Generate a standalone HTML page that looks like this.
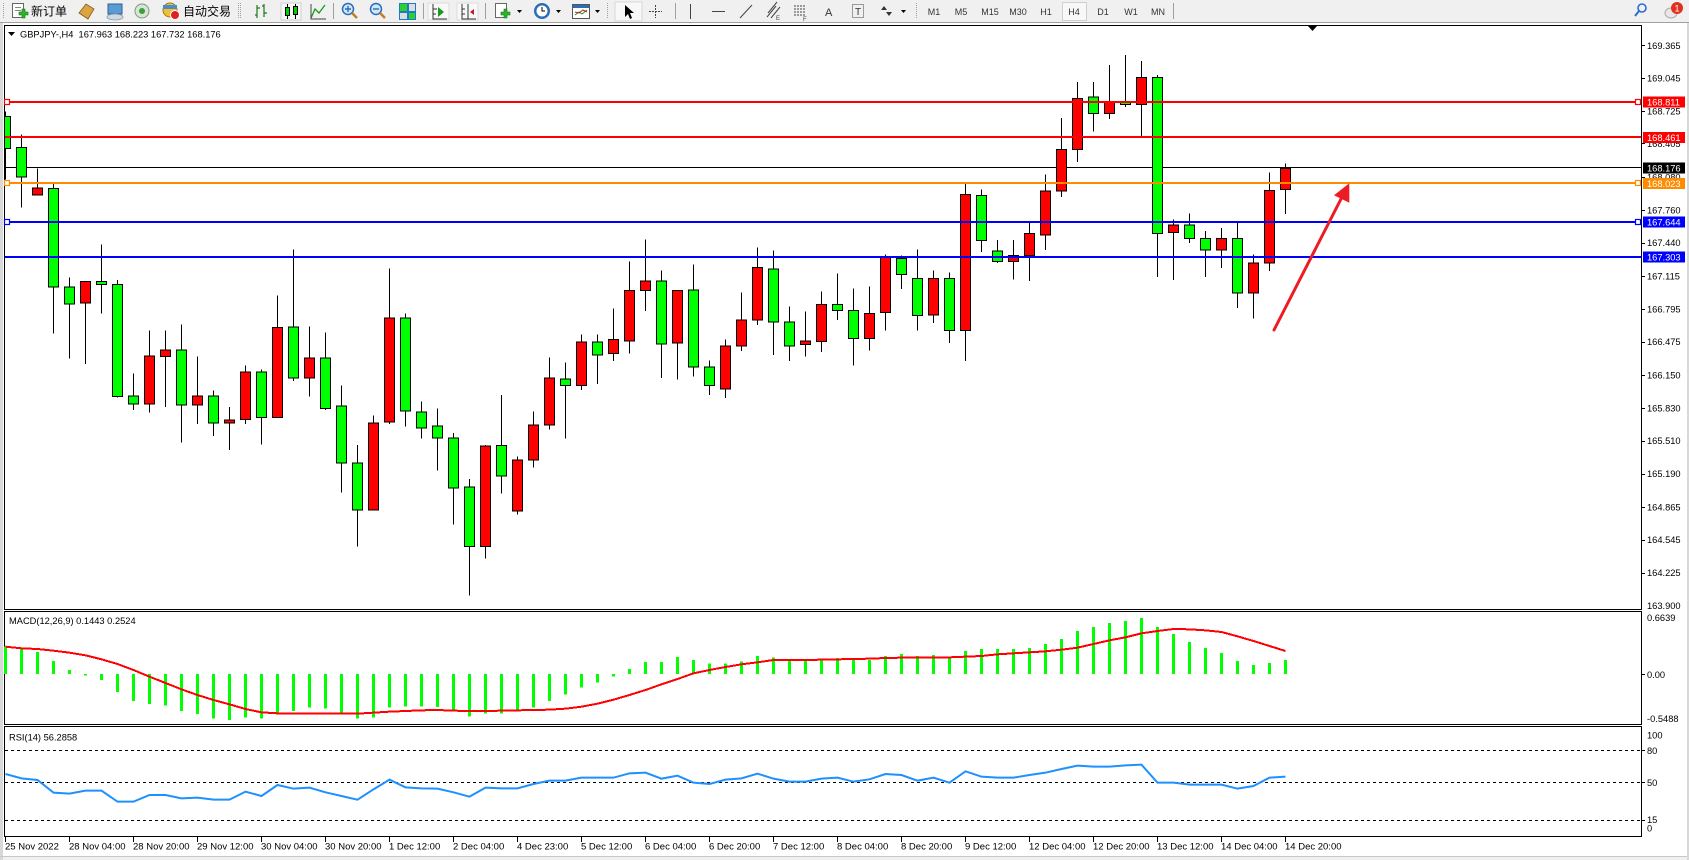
<!DOCTYPE html>
<html><head><meta charset="utf-8"><style>
html,body{margin:0;padding:0;background:#f0f0f0;}
svg{display:block;}
.c line,.c rect{vector-effect:non-scaling-stroke;stroke-width:1;}
.ln{vector-effect:non-scaling-stroke;}
text{font-family:"Liberation Sans","Noto Sans CJK SC",sans-serif;}
</style></head><body>
<svg width="1689" height="860" viewBox="0 0 1689 860" xmlns="http://www.w3.org/2000/svg">
<defs><clipPath id="mc"><rect x="5" y="26" width="1636" height="583"/></clipPath></defs>
<rect width="1689" height="860" fill="#f0f0f0"/>
<!-- toolbar -->
<line x1="0" y1="22.5" x2="1689" y2="22.5" stroke="#a0a0a0"/>
<g fill="none" stroke="#a0a0a0">
<line x1="3.5" y1="3" x2="3.5" y2="19" stroke-dasharray="1 1"/>
<line x1="238.5" y1="3" x2="238.5" y2="19" stroke-dasharray="1 1"/>
<line x1="240.5" y1="3" x2="240.5" y2="19" stroke-dasharray="1 1"/>
<line x1="333.5" y1="3" x2="333.5" y2="19"/>
<line x1="423.5" y1="3" x2="423.5" y2="19"/>
<line x1="485.5" y1="3" x2="485.5" y2="19"/>
<line x1="607.5" y1="3" x2="607.5" y2="19" stroke-dasharray="1 1"/>
<line x1="675.5" y1="3" x2="675.5" y2="19"/>
<line x1="916.5" y1="3" x2="916.5" y2="19" stroke-dasharray="1 1"/>
<line x1="1173.5" y1="3" x2="1173.5" y2="19"/>
</g>
<!-- new order -->
<rect x="12.5" y="3.5" width="11" height="14" fill="#fff" stroke="#666"/>
<line x1="15" y1="7.5" x2="21" y2="7.5" stroke="#888"/><line x1="15" y1="10.5" x2="21" y2="10.5" stroke="#888"/>
<path d="M19 12h3v-3h3v3h3v3h-3v3h-3v-3h-3z" fill="#2bb52b" stroke="#137013" stroke-width="0.6"/>
<text x="31" y="15.5" font-size="12" fill="#000">新订单</text>
<path d="M79 13l7-9 8 5-6 10z" fill="#d9a441" stroke="#8a5a10" stroke-width="0.8"/>
<rect x="108" y="4" width="14" height="10" fill="#5b9bd5" stroke="#2d5f91"/>
<ellipse cx="115" cy="17" rx="8" ry="3" fill="#d0d8e0" stroke="#8899aa" stroke-width="0.8"/>
<circle cx="142" cy="11" r="7" fill="#d8e4d8" stroke="#7a9a7a"/><circle cx="142" cy="11" r="3" fill="#3aa03a"/>
<circle cx="170" cy="10" r="7" fill="#f2c12e" stroke="#a07a10"/><rect x="163" y="5" width="14" height="4" fill="#4a8ad0"/>
<circle cx="175" cy="15" r="4.5" fill="#e02020" stroke="#fff" stroke-width="1"/>
<text x="183" y="15.5" font-size="12" fill="#000">自动交易</text>
<g stroke="#1a7a1a" stroke-width="1.2" fill="none">
<path d="M257 5v13M257 15h-2M257 8h3M264 4v13M264 6h-2M264 13h3"/>
</g>
<rect x="281" y="3" width="20" height="17" fill="#f8f8f8" stroke="#d0d0d0"/>
<g stroke="#000" stroke-width="1"><line x1="287.5" y1="4" x2="287.5" y2="19"/><line x1="295.5" y1="4" x2="295.5" y2="19"/></g>
<rect x="285.5" y="7.5" width="4" height="8" fill="#00d000" stroke="#000"/><rect x="293.5" y="6.5" width="4" height="8" fill="#00d000" stroke="#000"/>
<path d="M311 18l4-9 4 4 6-8" fill="none" stroke="#1a9a1a" stroke-width="1.3"/><path d="M311 4v15h15" fill="none" stroke="#444"/>
<circle cx="348" cy="9" r="5.5" fill="#cfe6fb" stroke="#2a6db5" stroke-width="1.5"/><path d="M345 9h6M348 6v6" stroke="#2a6db5" stroke-width="1.4"/><path d="M352 13l5 5" stroke="#c08020" stroke-width="2.5"/>
<circle cx="376" cy="9" r="5.5" fill="#cfe6fb" stroke="#2a6db5" stroke-width="1.5"/><path d="M373 9h6" stroke="#2a6db5" stroke-width="1.4"/><path d="M380 13l5 5" stroke="#c08020" stroke-width="2.5"/>
<rect x="399" y="3" width="17" height="17" fill="#1a7ad0"/><rect x="400" y="4" width="7" height="7" fill="#2bd22b"/><rect x="409" y="4" width="6" height="7" fill="#ddd"/><rect x="400" y="13" width="7" height="6" fill="#ddd"/><rect x="409" y="13" width="6" height="6" fill="#2bd22b"/>
<rect x="428" y="3" width="21" height="17" fill="#f8f8f8" stroke="#ddd"/>
<path d="M433 4v15h14M433 9h4M433 14h3" fill="none" stroke="#333"/><path d="M438 7l6 5-6 5z" fill="#1a9a1a"/>
<rect x="457" y="3" width="21" height="17" fill="#f8f8f8" stroke="#ddd"/>
<path d="M462 4v15h14M468 4v15M462 9h3M462 14h3" fill="none" stroke="#333"/><path d="M474 9l-4 3 4 3z" fill="#c02020"/>
<rect x="495.5" y="3.5" width="11" height="14" fill="#fff" stroke="#666"/><path d="M501 12h3v-3h3v3h3v3h-3v3h-3v-3h-3z" fill="#2bb52b" stroke="#137013" stroke-width="0.6"/>
<path d="M517 10h5l-2.5 3z" fill="#000"/>
<circle cx="542" cy="11" r="8" fill="#2a6db5"/><circle cx="542" cy="11" r="5.5" fill="#fff"/><path d="M542 7v4h3" stroke="#000" fill="none"/>
<path d="M556 10h5l-2.5 3z" fill="#000"/>
<rect x="572.5" y="4.5" width="17" height="14" fill="#fff" stroke="#555"/><rect x="573" y="5" width="16" height="3" fill="#2a6db5"/><path d="M575 15l4-3 3 2 5-4" stroke="#1a9a1a" fill="none"/><path d="M575 12l4 1 4-3 4 2" stroke="#c02020" fill="none"/>
<path d="M595 10h5l-2.5 3z" fill="#000"/>
<rect x="615" y="2" width="27" height="19" fill="#f8f8f8" stroke="#d8d8d8"/>
<path d="M625 5v12l3-3 2 5 2-1-2-5h4z" fill="#000"/>
<path d="M655.5 5v13M649 11.5h13" stroke="#444" stroke-dasharray="2 1"/>
<line x1="690.5" y1="4" x2="690.5" y2="19" stroke="#444"/>
<line x1="712" y1="11.5" x2="725" y2="11.5" stroke="#444"/>
<line x1="740" y1="18" x2="752" y2="5" stroke="#444"/>
<path d="M767 17l9-11M771 18l9-11M768 13l9-11" stroke="#444" fill="none"/><text x="776" y="20" font-size="6" fill="#444">E</text>
<path d="M794 6h12M794 9h12M794 12h12M794 15h12" stroke="#444" stroke-dasharray="2 1"/><text x="803" y="21" font-size="6" fill="#444">F</text>
<text x="825" y="16" font-size="11" fill="#333">A</text>
<rect x="852.5" y="4.5" width="11" height="13" fill="none" stroke="#444" stroke-dasharray="1 1"/><text x="855" y="15" font-size="10" fill="#333">T</text>
<path d="M884 6l-3 4h6zM889 16l-3-4h6z" fill="#333"/><path d="M901 10h5l-2.5 3z" fill="#000"/>
<g font-size="9" fill="#333" text-anchor="middle">
<text x="934" y="15">M1</text><text x="961" y="15">M5</text><text x="990" y="15">M15</text><text x="1018" y="15">M30</text><text x="1046" y="15">H1</text>
<rect x="1062.5" y="2.5" width="24" height="18" fill="#f8f8f8" stroke="#d0d0d0"/>
<text x="1074" y="15">H4</text><text x="1103" y="15">D1</text><text x="1131" y="15">W1</text><text x="1158" y="15">MN</text>
</g>
<circle cx="1642" cy="8" r="4" fill="none" stroke="#2a6dd0" stroke-width="1.6"/><line x1="1639" y1="11" x2="1635" y2="16" stroke="#2a6dd0" stroke-width="2"/>
<ellipse cx="1671" cy="13" rx="6" ry="5" fill="#e8e8e8" stroke="#aaa"/>
<circle cx="1677" cy="8" r="6" fill="#e03020"/><text x="1677" y="11.5" font-size="9" fill="#fff" text-anchor="middle">1</text>

<!-- chart window -->
<rect x="3" y="23" width="1684" height="833" fill="#fff"/>
<rect x="0" y="23" width="3" height="837" fill="#d8d8d8"/>
<line x1="0" y1="856.5" x2="1689" y2="856.5" stroke="#c8c8c8"/>
<rect x="1687" y="23" width="2" height="837" fill="#d8d8d8"/>

<!-- panels -->
<g fill="none" stroke="#000" shape-rendering="crispEdges">
<rect x="4.5" y="25.5" width="1637" height="584"/>
<rect x="4.5" y="611.5" width="1637" height="113"/>
<rect x="4.5" y="726.5" width="1637" height="110"/>
</g>

<!-- bid line (behind candles) -->
<line x1="5" y1="167.5" x2="1641" y2="167.5" stroke="#000" shape-rendering="crispEdges"/>

<!-- candles -->
<g clip-path="url(#mc)">
<g class="c" transform="translate(0,25) scale(1,0.37693)" stroke="#000" shape-rendering="crispEdges">
<line x1="5.5" x2="5.5" y1="230" y2="410"/><rect x="0.5" y="243" width="10" height="85" fill="#00ff00"/>
<line x1="21.5" x2="21.5" y1="290" y2="484"/><rect x="16.5" y="325" width="10" height="78" fill="#00ff00"/>
<line x1="37.5" x2="37.5" y1="381" y2="451"/><rect x="32.5" y="432" width="10" height="19" fill="#ff0000"/>
<line x1="53.5" x2="53.5" y1="422" y2="818"/><rect x="48.5" y="434" width="10" height="261" fill="#00ff00"/>
<line x1="69.5" x2="69.5" y1="670" y2="885"/><rect x="64.5" y="695" width="10" height="45" fill="#00ff00"/>
<line x1="85.5" x2="85.5" y1="681" y2="900"/><rect x="80.5" y="681" width="10" height="57" fill="#ff0000"/>
<line x1="101.5" x2="101.5" y1="582" y2="765"/><rect x="96.5" y="681" width="10" height="8" fill="#00ff00"/>
<line x1="117.5" x2="117.5" y1="676" y2="988"/><rect x="112.5" y="689" width="10" height="296" fill="#00ff00"/>
<line x1="133.5" x2="133.5" y1="925" y2="1022"/><rect x="128.5" y="984" width="10" height="22" fill="#00ff00"/>
<line x1="149.5" x2="149.5" y1="811" y2="1028"/><rect x="144.5" y="878" width="10" height="128" fill="#ff0000"/>
<line x1="165.5" x2="165.5" y1="811" y2="1013"/><rect x="160.5" y="862" width="10" height="17" fill="#ff0000"/>
<line x1="181.5" x2="181.5" y1="795" y2="1108"/><rect x="176.5" y="862" width="10" height="146" fill="#00ff00"/>
<line x1="197.5" x2="197.5" y1="880" y2="1058"/><rect x="192.5" y="984" width="10" height="24" fill="#ff0000"/>
<line x1="213.5" x2="213.5" y1="970" y2="1090"/><rect x="208.5" y="984" width="10" height="72" fill="#00ff00"/>
<line x1="229.5" x2="229.5" y1="1013" y2="1128"/><rect x="224.5" y="1048" width="10" height="8" fill="#ff0000"/>
<line x1="245.5" x2="245.5" y1="904" y2="1058"/><rect x="240.5" y="920" width="10" height="126" fill="#ff0000"/>
<line x1="261.5" x2="261.5" y1="914" y2="1113"/><rect x="256.5" y="920" width="10" height="121" fill="#00ff00"/>
<line x1="277.5" x2="277.5" y1="718" y2="1041"/><rect x="272.5" y="803" width="10" height="238" fill="#ff0000"/>
<line x1="293.5" x2="293.5" y1="595" y2="945"/><rect x="288.5" y="801" width="10" height="136" fill="#00ff00"/>
<line x1="309.5" x2="309.5" y1="800" y2="985"/><rect x="304.5" y="883" width="10" height="54" fill="#ff0000"/>
<line x1="325.5" x2="325.5" y1="816" y2="1022"/><rect x="320.5" y="883" width="10" height="134" fill="#00ff00"/>
<line x1="341.5" x2="341.5" y1="957" y2="1240"/><rect x="336.5" y="1011" width="10" height="151" fill="#00ff00"/>
<line x1="357.5" x2="357.5" y1="1114" y2="1384"/><rect x="352.5" y="1162" width="10" height="125" fill="#00ff00"/>
<line x1="373.5" x2="373.5" y1="1036" y2="1287"/><rect x="368.5" y="1056" width="10" height="231" fill="#ff0000"/>
<line x1="389.5" x2="389.5" y1="646" y2="1058"/><rect x="384.5" y="777" width="10" height="276" fill="#ff0000"/>
<line x1="405.5" x2="405.5" y1="766" y2="1065"/><rect x="400.5" y="777" width="10" height="247" fill="#00ff00"/>
<line x1="421.5" x2="421.5" y1="999" y2="1097"/><rect x="416.5" y="1027" width="10" height="42" fill="#00ff00"/>
<line x1="437.5" x2="437.5" y1="1018" y2="1182"/><rect x="432.5" y="1064" width="10" height="32" fill="#00ff00"/>
<line x1="453.5" x2="453.5" y1="1082" y2="1325"/><rect x="448.5" y="1096" width="10" height="132" fill="#00ff00"/>
<line x1="469.5" x2="469.5" y1="1204" y2="1513"/><rect x="464.5" y="1226" width="10" height="158" fill="#00ff00"/>
<line x1="485.5" x2="485.5" y1="1114" y2="1416"/><rect x="480.5" y="1117" width="10" height="267" fill="#ff0000"/>
<line x1="501.5" x2="501.5" y1="981" y2="1243"/><rect x="496.5" y="1115" width="10" height="82" fill="#00ff00"/>
<line x1="517.5" x2="517.5" y1="1145" y2="1299"/><rect x="512.5" y="1154" width="10" height="136" fill="#ff0000"/>
<line x1="533.5" x2="533.5" y1="1026" y2="1174"/><rect x="528.5" y="1061" width="10" height="93" fill="#ff0000"/>
<line x1="549.5" x2="549.5" y1="882" y2="1073"/><rect x="544.5" y="936" width="10" height="125" fill="#ff0000"/>
<line x1="565.5" x2="565.5" y1="896" y2="1097"/><rect x="560.5" y="939" width="10" height="18" fill="#00ff00"/>
<line x1="581.5" x2="581.5" y1="821" y2="969"/><rect x="576.5" y="841" width="10" height="116" fill="#ff0000"/>
<line x1="597.5" x2="597.5" y1="821" y2="953"/><rect x="592.5" y="841" width="10" height="34" fill="#00ff00"/>
<line x1="613.5" x2="613.5" y1="752" y2="892"/><rect x="608.5" y="835" width="10" height="37" fill="#ff0000"/>
<line x1="629.5" x2="629.5" y1="627" y2="871"/><rect x="624.5" y="705" width="10" height="133" fill="#ff0000"/>
<line x1="645.5" x2="645.5" y1="569" y2="759"/><rect x="640.5" y="679" width="10" height="26" fill="#ff0000"/>
<line x1="661.5" x2="661.5" y1="651" y2="937"/><rect x="656.5" y="679" width="10" height="167" fill="#00ff00"/>
<line x1="677.5" x2="677.5" y1="703" y2="940"/><rect x="672.5" y="705" width="10" height="138" fill="#ff0000"/>
<line x1="693.5" x2="693.5" y1="635" y2="932"/><rect x="688.5" y="703" width="10" height="204" fill="#00ff00"/>
<line x1="709.5" x2="709.5" y1="890" y2="982"/><rect x="704.5" y="907" width="10" height="50" fill="#00ff00"/>
<line x1="725.5" x2="725.5" y1="834" y2="990"/><rect x="720.5" y="851" width="10" height="115" fill="#ff0000"/>
<line x1="741.5" x2="741.5" y1="710" y2="865"/><rect x="736.5" y="782" width="10" height="69" fill="#ff0000"/>
<line x1="757.5" x2="757.5" y1="590" y2="796"/><rect x="752.5" y="644" width="10" height="138" fill="#ff0000"/>
<line x1="773.5" x2="773.5" y1="598" y2="876"/><rect x="768.5" y="647" width="10" height="141" fill="#00ff00"/>
<line x1="789.5" x2="789.5" y1="747" y2="892"/><rect x="784.5" y="788" width="10" height="63" fill="#00ff00"/>
<line x1="805.5" x2="805.5" y1="760" y2="879"/><rect x="800.5" y="838" width="10" height="10" fill="#ff0000"/>
<line x1="821.5" x2="821.5" y1="707" y2="868"/><rect x="816.5" y="742" width="10" height="98" fill="#ff0000"/>
<line x1="837.5" x2="837.5" y1="659" y2="783"/><rect x="832.5" y="742" width="10" height="16" fill="#00ff00"/>
<line x1="853.5" x2="853.5" y1="699" y2="903"/><rect x="848.5" y="758" width="10" height="74" fill="#00ff00"/>
<line x1="869.5" x2="869.5" y1="694" y2="863"/><rect x="864.5" y="766" width="10" height="66" fill="#ff0000"/>
<line x1="885.5" x2="885.5" y1="609" y2="810"/><rect x="880.5" y="616" width="10" height="147" fill="#ff0000"/>
<line x1="901.5" x2="901.5" y1="611" y2="701"/><rect x="896.5" y="620" width="10" height="42" fill="#00ff00"/>
<line x1="917.5" x2="917.5" y1="595" y2="810"/><rect x="912.5" y="673" width="10" height="98" fill="#00ff00"/>
<line x1="933.5" x2="933.5" y1="651" y2="791"/><rect x="928.5" y="673" width="10" height="96" fill="#ff0000"/>
<line x1="949.5" x2="949.5" y1="656" y2="844"/><rect x="944.5" y="673" width="10" height="138" fill="#00ff00"/>
<line x1="965.5" x2="965.5" y1="422" y2="892"/><rect x="960.5" y="450" width="10" height="361" fill="#ff0000"/>
<line x1="981.5" x2="981.5" y1="436" y2="602"/><rect x="976.5" y="453" width="10" height="119" fill="#00ff00"/>
<line x1="997.5" x2="997.5" y1="571" y2="632"/><rect x="992.5" y="599" width="10" height="29" fill="#00ff00"/>
<line x1="1013.5" x2="1013.5" y1="571" y2="675"/><rect x="1008.5" y="612" width="10" height="16" fill="#ff0000"/>
<line x1="1029.5" x2="1029.5" y1="524" y2="679"/><rect x="1024.5" y="553" width="10" height="59" fill="#ff0000"/>
<line x1="1045.5" x2="1045.5" y1="396" y2="597"/><rect x="1040.5" y="441" width="10" height="116" fill="#ff0000"/>
<line x1="1061.5" x2="1061.5" y1="247" y2="456"/><rect x="1056.5" y="330" width="10" height="110" fill="#ff0000"/>
<line x1="1077.5" x2="1077.5" y1="151" y2="363"/><rect x="1072.5" y="195" width="10" height="135" fill="#ff0000"/>
<line x1="1093.5" x2="1093.5" y1="151" y2="283"/><rect x="1088.5" y="191" width="10" height="44" fill="#00ff00"/>
<line x1="1109.5" x2="1109.5" y1="106" y2="249"/><rect x="1104.5" y="205" width="10" height="30" fill="#ff0000"/>
<line x1="1125.5" x2="1125.5" y1="80" y2="217"/><rect x="1120.5" y="205" width="10" height="6" fill="#00ff00"/>
<line x1="1141.5" x2="1141.5" y1="96" y2="298"/><rect x="1136.5" y="139" width="10" height="72" fill="#ff0000"/>
<line x1="1157.5" x2="1157.5" y1="133" y2="669"/><rect x="1152.5" y="139" width="10" height="414" fill="#00ff00"/>
<line x1="1173.5" x2="1173.5" y1="516" y2="677"/><rect x="1168.5" y="530" width="10" height="21" fill="#ff0000"/>
<line x1="1189.5" x2="1189.5" y1="500" y2="578"/><rect x="1184.5" y="530" width="10" height="37" fill="#00ff00"/>
<line x1="1205.5" x2="1205.5" y1="547" y2="669"/><rect x="1200.5" y="567" width="10" height="30" fill="#00ff00"/>
<line x1="1221.5" x2="1221.5" y1="539" y2="645"/><rect x="1216.5" y="567" width="10" height="30" fill="#ff0000"/>
<line x1="1237.5" x2="1237.5" y1="523" y2="751"/><rect x="1232.5" y="567" width="10" height="144" fill="#00ff00"/>
<line x1="1253.5" x2="1253.5" y1="609" y2="778"/><rect x="1248.5" y="631" width="10" height="80" fill="#ff0000"/>
<line x1="1269.5" x2="1269.5" y1="391" y2="653"/><rect x="1264.5" y="439" width="10" height="192" fill="#ff0000"/>
<line x1="1285.5" x2="1285.5" y1="367" y2="501"/><rect x="1280.5" y="381" width="10" height="56" fill="#ff0000"/>
</g>
</g>

<!-- horizontal levels -->
<g shape-rendering="crispEdges">
<line x1="5" y1="102" x2="1641" y2="102" stroke="#ff0000" stroke-width="2"/>
<line x1="5" y1="137" x2="1641" y2="137" stroke="#ff0000" stroke-width="2"/>
<line x1="5" y1="183" x2="1641" y2="183" stroke="#ff8c00" stroke-width="2"/>
<line x1="5" y1="222" x2="1641" y2="222" stroke="#0000ff" stroke-width="2"/>
<line x1="5" y1="257" x2="1641" y2="257" stroke="#0000ff" stroke-width="2"/>
</g>
<g fill="#fff" stroke-width="1.2">
<rect x="4.5" y="99.5" width="5" height="5" stroke="#ff0000"/>
<rect x="4.5" y="180.5" width="5" height="5" stroke="#ff8c00"/>
<rect x="4.5" y="219.5" width="5" height="5" stroke="#0000ff"/>
<rect x="1635.5" y="99.5" width="5" height="5" stroke="#ff0000"/>
<rect x="1635.5" y="180.5" width="5" height="5" stroke="#ff8c00"/>
<rect x="1635.5" y="219.5" width="5" height="5" stroke="#0000ff"/>
</g>

<!-- arrow -->
<line x1="1274" y1="330" x2="1342" y2="197" stroke="#ed1c24" stroke-width="3" stroke-linecap="round"/>
<polygon points="1349.3,183.3 1334,195.3 1349.3,202.7" fill="#ed1c24"/>

<!-- header -->
<polygon points="8,32 15,32 11.5,36" fill="#000"/>
<text x="20" y="37.5" font-size="9.3" fill="#000" style="white-space:pre">GBPJPY-,H4  167.963 168.223 167.732 168.176</text>
<polygon points="1308,26 1317,26 1312.5,31" fill="#000"/>

<!-- MACD -->
<text x="9" y="624" font-size="9.3" fill="#000">MACD(12,26,9) 0.1443 0.2524</text>
<g transform="translate(0,605) scale(1,0.333333)" fill="#00ff00" shape-rendering="crispEdges">
<rect x="4" y="125" width="3" height="82"/><rect x="20" y="133" width="3" height="74"/><rect x="36" y="141" width="3" height="66"/><rect x="52" y="168" width="3" height="39"/><rect x="68" y="195" width="3" height="12"/>
<rect x="84" y="207" width="3" height="5"/><rect x="100" y="207" width="3" height="18"/><rect x="116" y="207" width="3" height="54"/><rect x="132" y="207" width="3" height="81"/><rect x="148" y="207" width="3" height="90"/>
<rect x="164" y="207" width="3" height="95"/><rect x="180" y="207" width="3" height="111"/><rect x="196" y="207" width="3" height="120"/><rect x="212" y="207" width="3" height="133"/><rect x="228" y="207" width="3" height="138"/>
<rect x="244" y="207" width="3" height="131"/><rect x="260" y="207" width="3" height="133"/><rect x="276" y="207" width="3" height="118"/><rect x="292" y="207" width="3" height="111"/><rect x="308" y="207" width="3" height="101"/>
<rect x="324" y="207" width="3" height="104"/><rect x="340" y="207" width="3" height="118"/><rect x="356" y="207" width="3" height="134"/><rect x="372" y="207" width="3" height="131"/><rect x="388" y="207" width="3" height="101"/>
<rect x="404" y="207" width="3" height="98"/><rect x="420" y="207" width="3" height="98"/><rect x="436" y="207" width="3" height="99"/><rect x="452" y="207" width="3" height="111"/><rect x="468" y="207" width="3" height="128"/>
<rect x="484" y="207" width="3" height="119"/><rect x="500" y="207" width="3" height="119"/><rect x="516" y="207" width="3" height="113"/><rect x="532" y="207" width="3" height="101"/><rect x="548" y="207" width="3" height="81"/>
<rect x="564" y="207" width="3" height="61"/><rect x="580" y="207" width="3" height="41"/><rect x="596" y="207" width="3" height="26"/><rect x="612" y="207" width="3" height="8"/>
<rect x="628" y="192" width="3" height="15"/><rect x="644" y="171" width="3" height="36"/><rect x="660" y="171" width="3" height="36"/><rect x="676" y="156" width="3" height="51"/><rect x="692" y="165" width="3" height="42"/>
<rect x="708" y="175" width="3" height="32"/><rect x="724" y="175" width="3" height="32"/><rect x="740" y="169" width="3" height="38"/><rect x="756" y="153" width="3" height="54"/><rect x="772" y="157" width="3" height="50"/>
<rect x="788" y="165" width="3" height="42"/><rect x="804" y="165" width="3" height="42"/><rect x="820" y="165" width="3" height="42"/><rect x="836" y="159" width="3" height="48"/><rect x="852" y="162" width="3" height="45"/>
<rect x="868" y="165" width="3" height="42"/><rect x="884" y="153" width="3" height="54"/><rect x="900" y="147" width="3" height="60"/><rect x="916" y="153" width="3" height="54"/><rect x="932" y="150" width="3" height="57"/>
<rect x="948" y="159" width="3" height="48"/><rect x="964" y="138" width="3" height="69"/><rect x="980" y="132" width="3" height="75"/><rect x="996" y="132" width="3" height="75"/><rect x="1012" y="132" width="3" height="75"/>
<rect x="1028" y="129" width="3" height="78"/><rect x="1044" y="117" width="3" height="90"/><rect x="1060" y="102" width="3" height="105"/><rect x="1076" y="78" width="3" height="129"/><rect x="1092" y="66" width="3" height="141"/>
<rect x="1108" y="54" width="3" height="153"/><rect x="1124" y="48" width="3" height="159"/><rect x="1140" y="39" width="3" height="168"/><rect x="1156" y="66" width="3" height="141"/><rect x="1172" y="87" width="3" height="120"/>
<rect x="1188" y="111" width="3" height="96"/><rect x="1204" y="129" width="3" height="78"/><rect x="1220" y="144" width="3" height="63"/><rect x="1236" y="168" width="3" height="39"/><rect x="1252" y="180" width="3" height="27"/>
<rect x="1268" y="174" width="3" height="33"/><rect x="1284" y="165" width="3" height="42"/>
<polyline class="ln" fill="none" stroke="#ff0000" stroke-width="2" points="5.5,125 21.5,130 37.5,132 53.5,137 69.5,143 85.5,151 101.5,163 117.5,177 133.5,195 149.5,215 165.5,234 181.5,253 197.5,270 213.5,285 229.5,298 245.5,312 261.5,322 277.5,325 293.5,325 309.5,325 325.5,325 341.5,326 357.5,326 373.5,323 389.5,320 405.5,318 421.5,316 437.5,315 453.5,317 469.5,318 485.5,318 501.5,317 517.5,316 533.5,315 549.5,314 565.5,311 581.5,305 597.5,296 613.5,284 629.5,270 645.5,255 661.5,238 677.5,222 693.5,205 709.5,195 725.5,186 741.5,178 757.5,172 773.5,165 789.5,165 805.5,165 821.5,164 837.5,163 853.5,162 869.5,161 885.5,159 901.5,158 917.5,158 933.5,158 949.5,157 965.5,155 981.5,153 997.5,148 1013.5,145 1029.5,142 1045.5,139 1061.5,134 1077.5,128 1093.5,117 1109.5,106 1125.5,97 1141.5,85 1157.5,78 1173.5,72 1189.5,73 1205.5,76 1221.5,81 1237.5,94 1253.5,108 1269.5,123 1285.5,138"/>
</g>

<!-- RSI -->
<text x="9" y="740.5" font-size="9.3" fill="#000">RSI(14) 56.2858</text>
<g stroke="#000" stroke-dasharray="3 3" shape-rendering="crispEdges">
<line x1="5" y1="750.5" x2="1641" y2="750.5"/>
<line x1="5" y1="782.5" x2="1641" y2="782.5"/>
<line x1="5" y1="820.5" x2="1641" y2="820.5"/>
</g>
<g transform="translate(0,605) scale(1,0.333333)">
<polyline class="ln" fill="none" stroke="#1e90ff" stroke-width="2" points="5.5,507 21.5,520 37.5,525 53.5,563 69.5,566 85.5,557 101.5,557 117.5,590 133.5,590 149.5,570 165.5,570 181.5,580 197.5,578 213.5,584 229.5,584 245.5,560 261.5,573 277.5,540 293.5,551 309.5,548 325.5,562 341.5,573 357.5,584 373.5,553 389.5,524 405.5,547 421.5,550 437.5,551 453.5,562 469.5,575 485.5,548 501.5,550 517.5,550 533.5,537 549.5,527 565.5,527 581.5,518 597.5,518 613.5,518 629.5,505 645.5,503 661.5,521 677.5,512 693.5,533 709.5,537 725.5,524 741.5,520 757.5,506 773.5,521 789.5,530 805.5,530 821.5,521 837.5,518 853.5,530 869.5,523 885.5,507 901.5,510 917.5,527 933.5,518 949.5,533 965.5,499 981.5,515 997.5,518 1013.5,518 1029.5,510 1045.5,503 1061.5,492 1077.5,482 1093.5,485 1109.5,485 1125.5,481 1141.5,479 1157.5,533 1173.5,533 1189.5,539 1205.5,539 1221.5,539 1237.5,551 1253.5,543 1269.5,518 1285.5,515"/>
</g>

<!-- right axis ticks -->
<g stroke="#000" shape-rendering="crispEdges">
<line x1="1642" y1="45.5" x2="1645" y2="45.5"/><line x1="1642" y1="78.5" x2="1645" y2="78.5"/><line x1="1642" y1="111.5" x2="1645" y2="111.5"/><line x1="1642" y1="143.5" x2="1645" y2="143.5"/>
<line x1="1642" y1="177.5" x2="1645" y2="177.5"/><line x1="1642" y1="210.5" x2="1645" y2="210.5"/><line x1="1642" y1="243.5" x2="1645" y2="243.5"/><line x1="1642" y1="276.5" x2="1645" y2="276.5"/>
<line x1="1642" y1="309.5" x2="1645" y2="309.5"/><line x1="1642" y1="342.5" x2="1645" y2="342.5"/><line x1="1642" y1="375.5" x2="1645" y2="375.5"/><line x1="1642" y1="408.5" x2="1645" y2="408.5"/>
<line x1="1642" y1="441.5" x2="1645" y2="441.5"/><line x1="1642" y1="474.5" x2="1645" y2="474.5"/><line x1="1642" y1="507.5" x2="1645" y2="507.5"/><line x1="1642" y1="540.5" x2="1645" y2="540.5"/>
<line x1="1642" y1="573.5" x2="1645" y2="573.5"/><line x1="1642" y1="674.5" x2="1645" y2="674.5"/>
<line x1="1642" y1="750.5" x2="1645" y2="750.5"/><line x1="1642" y1="782.5" x2="1645" y2="782.5"/><line x1="1642" y1="820.5" x2="1645" y2="820.5"/>
</g>
<g font-size="9.3" fill="#000">
<text x="1647" y="48.8">169.365</text>
<text x="1647" y="81.6">169.045</text>
<text x="1647" y="114.5">168.725</text>
<text x="1647" y="147.2">168.405</text>
<text x="1647" y="180.5">168.080</text>
<text x="1647" y="213.4">167.760</text>
<text x="1647" y="246.2">167.440</text>
<text x="1647" y="279.5">167.115</text>
<text x="1647" y="312.4">166.795</text>
<text x="1647" y="345.2">166.475</text>
<text x="1647" y="378.6">166.150</text>
<text x="1647" y="411.4">165.830</text>
<text x="1647" y="444.2">165.510</text>
<text x="1647" y="477.1">165.190</text>
<text x="1647" y="510.4">164.865</text>
<text x="1647" y="543.2">164.545</text>
<text x="1647" y="576.1">164.225</text>
<text x="1647" y="609">163.900</text>
<text x="1647" y="620.8">0.6639</text>
<text x="1647" y="677.8">0.00</text>
<text x="1647" y="721.8">-0.5488</text>
<text x="1647" y="738.5">100</text>
<text x="1647" y="754">80</text>
<text x="1647" y="786">50</text>
<text x="1647" y="823">15</text>
<text x="1647" y="831.5">0</text>
</g>
<!-- price boxes -->
<g shape-rendering="crispEdges">
<rect x="1643" y="96.5" width="42" height="11" fill="#ff0000"/>
<rect x="1643" y="132" width="42" height="11" fill="#ff0000"/>
<rect x="1643" y="162.5" width="42" height="11" fill="#000"/>
<rect x="1643" y="178" width="42" height="11" fill="#ff8c00"/>
<rect x="1643" y="216.5" width="42" height="11" fill="#0000ff"/>
<rect x="1643" y="251.5" width="42" height="11" fill="#0000ff"/>
</g>
<g font-size="9.3" fill="#fff">
<text x="1647" y="105.5">168.811</text>
<text x="1647" y="141">168.461</text>
<text x="1647" y="171.5">168.176</text>
<text x="1647" y="187">168.023</text>
<text x="1647" y="225.5">167.644</text>
<text x="1647" y="260.5">167.303</text>
</g>

<!-- dates -->
<g stroke="#000" shape-rendering="crispEdges">
<line x1="5.5" y1="837" x2="5.5" y2="842"/><line x1="69.5" y1="837" x2="69.5" y2="842"/><line x1="133.5" y1="837" x2="133.5" y2="842"/><line x1="197.5" y1="837" x2="197.5" y2="842"/>
<line x1="261.5" y1="837" x2="261.5" y2="842"/><line x1="325.5" y1="837" x2="325.5" y2="842"/><line x1="389.5" y1="837" x2="389.5" y2="842"/><line x1="453.5" y1="837" x2="453.5" y2="842"/>
<line x1="517.5" y1="837" x2="517.5" y2="842"/><line x1="581.5" y1="837" x2="581.5" y2="842"/><line x1="645.5" y1="837" x2="645.5" y2="842"/><line x1="709.5" y1="837" x2="709.5" y2="842"/>
<line x1="773.5" y1="837" x2="773.5" y2="842"/><line x1="837.5" y1="837" x2="837.5" y2="842"/><line x1="901.5" y1="837" x2="901.5" y2="842"/><line x1="965.5" y1="837" x2="965.5" y2="842"/>
<line x1="1029.5" y1="837" x2="1029.5" y2="842"/><line x1="1093.5" y1="837" x2="1093.5" y2="842"/><line x1="1157.5" y1="837" x2="1157.5" y2="842"/><line x1="1221.5" y1="837" x2="1221.5" y2="842"/><line x1="1285.5" y1="837" x2="1285.5" y2="842"/>
</g>
<g font-size="9.5" fill="#000">
<text x="5" y="849.5">25 Nov 2022</text>
<text x="69" y="849.5">28 Nov 04:00</text>
<text x="133" y="849.5">28 Nov 20:00</text>
<text x="197" y="849.5">29 Nov 12:00</text>
<text x="261" y="849.5">30 Nov 04:00</text>
<text x="325" y="849.5">30 Nov 20:00</text>
<text x="389" y="849.5">1 Dec 12:00</text>
<text x="453" y="849.5">2 Dec 04:00</text>
<text x="517" y="849.5">4 Dec 23:00</text>
<text x="581" y="849.5">5 Dec 12:00</text>
<text x="645" y="849.5">6 Dec 04:00</text>
<text x="709" y="849.5">6 Dec 20:00</text>
<text x="773" y="849.5">7 Dec 12:00</text>
<text x="837" y="849.5">8 Dec 04:00</text>
<text x="901" y="849.5">8 Dec 20:00</text>
<text x="965" y="849.5">9 Dec 12:00</text>
<text x="1029" y="849.5">12 Dec 04:00</text>
<text x="1093" y="849.5">12 Dec 20:00</text>
<text x="1157" y="849.5">13 Dec 12:00</text>
<text x="1221" y="849.5">14 Dec 04:00</text>
<text x="1285" y="849.5">14 Dec 20:00</text>
</g>
</svg>
</body></html>
